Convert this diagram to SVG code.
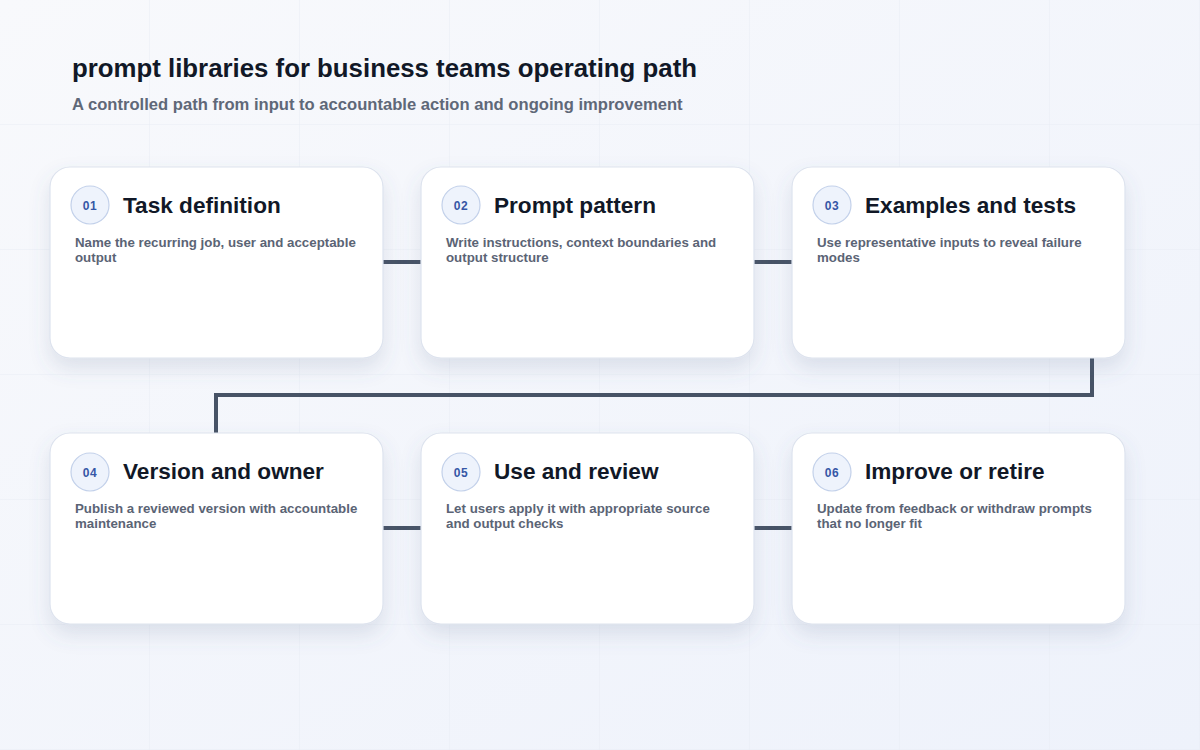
<svg xmlns="http://www.w3.org/2000/svg" width="1200" height="750" viewBox="0 0 1200 750">
  <defs>
    <linearGradient id="bg" x1="0" y1="0" x2="1" y2="1">
      <stop offset="0" stop-color="#f8f9fc"/>
      <stop offset="1" stop-color="#eef2fb"/>
    </linearGradient>
    <pattern id="grid" x="0" y="0" width="150" height="125" patternUnits="userSpaceOnUse">
      <path d="M150 0 V125 M0 125 H150" fill="none" stroke="#e9edf4" stroke-width="1"/>
    </pattern>
    <filter id="shadow" x="-20%" y="-20%" width="140%" height="150%">
      <feDropShadow dx="0" dy="10" stdDeviation="10" flood-color="#5a6a90" flood-opacity="0.16"/>
    </filter>
  </defs>
  <style>
    .card { fill: #ffffff; stroke: #dde3ee; stroke-width: 1.2; filter: url(#shadow); }
    .badge { fill: #eef3fc; stroke: #c3d1ea; stroke-width: 1.2; }
    .num { font-family: "Liberation Sans", Arial, sans-serif; font-size: 12px; font-weight: 700; fill: #3657a6; text-anchor: middle; letter-spacing: 0.5px; }
    .title { font-family: "Liberation Sans", Arial, sans-serif; font-size: 22.6px; font-weight: 700; fill: #111827; }
    .desc { font-family: "Liberation Sans", Arial, sans-serif; font-size: 13.3px; font-weight: 700; fill: #5b6475; }
    .h1 { font-family: "Liberation Sans", Arial, sans-serif; font-size: 25.8px; font-weight: 700; fill: #111827; }
    .h2 { font-family: "Liberation Sans", Arial, sans-serif; font-size: 16.6px; font-weight: 700; fill: #5f6878; }
    .conn { fill: none; stroke: #475366; stroke-width: 4; stroke-linejoin: miter; }
  </style>
  <rect width="1200" height="750" fill="url(#bg)"/>
  <rect width="1200" height="750" fill="url(#grid)"/>

  <text class="h1" x="72" y="77">prompt libraries for business teams operating path</text>
  <text class="h2" x="72" y="110">A controlled path from input to accountable action and ongoing improvement</text>

  <g id="connectors">
    <path class="conn" d="M383 262 H421"/>
    <path class="conn" d="M754 262 H792"/>
    <path class="conn" d="M1092 358 V395 H216 V433"/>
    <path class="conn" d="M383 528 H421"/>
    <path class="conn" d="M754 528 H792"/>
  </g>

  <g id="node-01">
    <rect class="card" x="50" y="167" width="333" height="191" rx="20"/>
    <circle class="badge" cx="90" cy="205" r="19"/>
    <text class="num" x="90" y="210">01</text>
    <text class="title" x="123" y="213">Task definition</text>
    <text class="desc" x="75" y="247">Name the recurring job, user and acceptable</text>
    <text class="desc" x="75" y="262">output</text>
  </g>
  <g id="node-02">
    <rect class="card" x="421" y="167" width="333" height="191" rx="20"/>
    <circle class="badge" cx="461" cy="205" r="19"/>
    <text class="num" x="461" y="210">02</text>
    <text class="title" x="494" y="213">Prompt pattern</text>
    <text class="desc" x="446" y="247">Write instructions, context boundaries and</text>
    <text class="desc" x="446" y="262">output structure</text>
  </g>
  <g id="node-03">
    <rect class="card" x="792" y="167" width="333" height="191" rx="20"/>
    <circle class="badge" cx="832" cy="205" r="19"/>
    <text class="num" x="832" y="210">03</text>
    <text class="title" x="865" y="213">Examples and tests</text>
    <text class="desc" x="817" y="247">Use representative inputs to reveal failure</text>
    <text class="desc" x="817" y="262">modes</text>
  </g>
  <g id="node-04">
    <rect class="card" x="50" y="433" width="333" height="191" rx="20"/>
    <circle class="badge" cx="90" cy="472" r="19"/>
    <text class="num" x="90" y="477">04</text>
    <text class="title" x="123" y="479">Version and owner</text>
    <text class="desc" x="75" y="513">Publish a reviewed version with accountable</text>
    <text class="desc" x="75" y="528">maintenance</text>
  </g>
  <g id="node-05">
    <rect class="card" x="421" y="433" width="333" height="191" rx="20"/>
    <circle class="badge" cx="461" cy="472" r="19"/>
    <text class="num" x="461" y="477">05</text>
    <text class="title" x="494" y="479">Use and review</text>
    <text class="desc" x="446" y="513">Let users apply it with appropriate source</text>
    <text class="desc" x="446" y="528">and output checks</text>
  </g>
  <g id="node-06">
    <rect class="card" x="792" y="433" width="333" height="191" rx="20"/>
    <circle class="badge" cx="832" cy="472" r="19"/>
    <text class="num" x="832" y="477">06</text>
    <text class="title" x="865" y="479">Improve or retire</text>
    <text class="desc" x="817" y="513">Update from feedback or withdraw prompts</text>
    <text class="desc" x="817" y="528">that no longer fit</text>
  </g>
</svg>
